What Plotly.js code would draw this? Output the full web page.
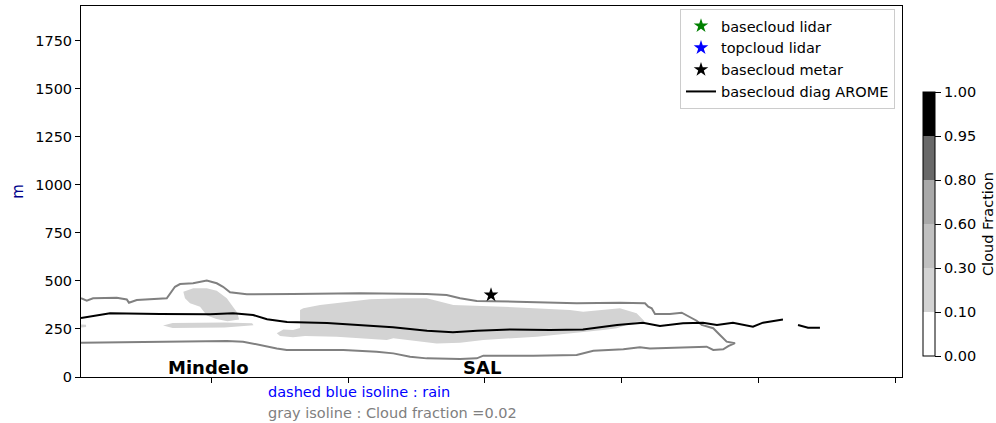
<!DOCTYPE html>
<html>
<head>
<meta charset="utf-8">
<script src="https://cdn.plot.ly/plotly-3.0.1.min.js"></script>
<style>html,body{margin:0;padding:0;background:#fff;}#chart{width:996px;height:423px;}</style>
</head>
<body>
<div id="chart"></div>
<script>
// ---- data (distance along section in km, height in m) ----
var aromeX = [5.1, 15.3, 26.3, 62.8, 99.3, 116.1, 130.7, 140.9, 155.5, 184.7, 208.8, 232.8, 257.7, 276.6, 294.2, 318.2, 347.4, 371.5, 396.4, 415.3, 427.7, 444.5, 459.1, 469.3, 481.0, 495.6, 502.9, 515.3, 517.5, null, 528.5, 535.8, 544.5];
var aromeY = [307, 318, 332, 328, 327, 332, 323, 301, 286, 281, 271, 259, 241, 233, 241, 248, 245, 248, 271, 283, 266, 280, 283, 271, 283, 262, 283, 297, 300, null, 271, 257, 257];

var metarX = [304.4];
var metarY = [427];
var lidarBaseX = [null];
var lidarBaseY = [null];
var lidarTopX = [null];
var lidarTopY = [null];

// cloud fraction = 0.02 isoline (upper branch left->right, then lower branch right->left)
var isoX = [5.1, 9.3, 13.9, 31.2, 38.5, 40.1, 45.8, 55.5, 67.7, 73.7, 77.4, 86.9, 96.9, 104.2, 108.8, 113.9, 126.1, 159.9, 208.8, 257.4, 272.0, 281.8, 294.0, 323.1, 366.9, 398.5, 416.8, 419.2, 421.7, 424.1, 435.0, 443.6, 448.4, 454.5, 458.2, 463.0, 466.6, 471.5, 476.4, 482.5,
            477.6, 473.9, 466.6, 461.8, 444.7, 420.4, 413.1, 401.0, 379.1, 366.9, 335.3, 298.8, 294.0, 281.8, 257.4, 245.3, 233.1, 220.9, 196.6, 155.3, 148.0, 135.8, 123.4, 111.5, 62.8, 4.9];
var isoY = [410, 397, 410, 413, 404, 387, 401, 405, 410, 470, 484, 488, 502, 488, 470, 441, 431, 432, 436, 432, 427, 410, 396, 392, 384, 387, 384, 366, 358, 328, 328, 335, 318, 293, 271, 262, 254, 219, 184, 176,
            161, 144, 141, 158, 155, 149, 155, 144, 137, 115, 111, 111, 97, 94, 97, 106, 123, 132, 141, 141, 149, 167, 184, 187, 182, 179];

// cloud fraction 0.10-0.30 areas
var cloudAX = [79.8, 87.1, 96.9, 104.2, 111.5, 116.3, 119.2, 120.5, 112.0, 104.0, 97.0, 92.0, 84.7, 81.0];
var cloudAY = [444, 462, 462, 449, 410, 366, 335, 300, 290, 302, 320, 366, 384, 410];
var cloudBX = [65.0, 72.0, 110.0, 130.0, 131.0, 110.0, 72.0];
var cloudBY = [268, 281, 284, 280, 270, 258, 255];
var cloudCX = [5.1, 8.8, 8.8, 5.1];
var cloudCY = [258, 260, 272, 274];
var cloudDX = [165.0, 167.4, 179.6, 199.1, 216.1, 240.4, 257.4, 264.7, 276.9, 313.4, 362.0, 371.7, 398.5, 410.7, 416.8, 410.7, 396.1, 386.4, 347.4, 337.7, 298.8, 281.8, 264.7, 233.1, 228.3, 191.8, 168.6, 159.9, 150.4, 148.0, 152.8, 159.9, 165.0];
var cloudDY = [349, 358, 375, 392, 405, 410, 410, 397, 375, 366, 349, 340, 358, 332, 288, 288, 254, 245, 219, 210, 193, 179, 175, 202, 193, 210, 214, 207, 214, 228, 248, 245, 255];

var yTicks = [0, 250, 500, 750, 1000, 1250, 1500, 1750];
var xTicks = [100, 200, 300, 400, 500, 600];
var stations = ['Mindelo', 'SAL'];
var stationX = [98.5, 297.8];
var cfLevels = ['0.00', '0.10', '0.30', '0.60', '0.80', '0.95', '1.00'];
var cfColors = ['white', 'lightgray', 'silver', 'darkgray', 'dimgray', 'black'];

// ---- build ----
var F = 'DejaVu Sans, Verdana, sans-serif';
var PW = 996 - 81 - 10; // paper width between margins
function px(p) { return (p - 81) / PW; }
var cscale = [];
for (var i = 0; i < cfColors.length; i++) {
  cscale.push([i / cfColors.length, cfColors[i]]);
  cscale.push([(i + 1) / cfColors.length, cfColors[i]]);
}

function patch(x, y) {
  return {x: x, y: y, type: 'scatter', mode: 'lines', fill: 'toself', fillcolor: 'lightgray',
          line: {width: 0, color: 'lightgray'}, showlegend: false, hoverinfo: 'skip'};
}

var traces = [
  patch(cloudAX, cloudAY), patch(cloudBX, cloudBY), patch(cloudCX, cloudCY), patch(cloudDX, cloudDY),
  {x: isoX, y: isoY, type: 'scatter', mode: 'lines', line: {color: 'gray', width: 2}, showlegend: false},
  {x: lidarBaseX, y: lidarBaseY, type: 'scatter', mode: 'markers', name: 'basecloud lidar',
   marker: {symbol: 'star', size: 11, color: 'green'}},
  {x: lidarTopX, y: lidarTopY, type: 'scatter', mode: 'markers', name: 'topcloud lidar',
   marker: {symbol: 'star', size: 11, color: 'blue'}},
  {x: metarX, y: metarY, type: 'scatter', mode: 'markers', name: 'basecloud metar',
   marker: {symbol: 'star', size: 11, color: 'black'}},
  {x: aromeX, y: aromeY, type: 'scatter', mode: 'lines', name: 'basecloud diag AROME',
   line: {color: 'black', width: 2}, connectgaps: false},
  {x: [null], y: [null], type: 'scatter', mode: 'markers', showlegend: false, hoverinfo: 'skip',
   marker: {color: [0], cmin: 0, cmax: 6, colorscale: cscale, showscale: true,
     colorbar: {x: px(923), xanchor: 'left', xpad: 0, ypad: 0, y: 0.412, yanchor: 'middle',
       len: 264, lenmode: 'pixels', thickness: 12, thicknessmode: 'pixels',
       outlinewidth: 1, outlinecolor: 'black', borderwidth: 0,
       tickmode: 'array', tickvals: [0, 1, 2, 3, 4, 5, 6], ticktext: cfLevels,
       ticks: 'outside', ticklen: 6, tickwidth: 1, tickcolor: 'black',
       tickfont: {family: F, size: 14.5, color: 'black'}}}}
];

var annotations = [];
for (var k = 0; k < stations.length; k++) {
  annotations.push({x: stationX[k], y: 0, xref: 'x', yref: 'y', text: '<b>' + stations[k] + '</b>',
    showarrow: false, xanchor: 'center', yanchor: 'bottom', yshift: -3,
    font: {family: F, size: 18, color: 'black'}});
}
annotations.push({x: px(266), y: (377 - 392) / 371, xref: 'paper', yref: 'paper', text: 'dashed blue isoline : rain',
  showarrow: false, xanchor: 'left', yanchor: 'middle', font: {family: F, size: 14.5, color: 'blue'}});
annotations.push({x: px(266), y: (377 - 413) / 371, xref: 'paper', yref: 'paper', text: 'gray isoline : Cloud fraction =0.02',
  showarrow: false, xanchor: 'left', yanchor: 'middle', font: {family: F, size: 14.5, color: 'gray'}});
annotations.push({x: px(988), y: (377 - 224) / 371, xref: 'paper', yref: 'paper', text: 'Cloud Fraction',
  textangle: -90, showarrow: false, xanchor: 'center', yanchor: 'middle', font: {family: F, size: 14.5, color: 'black'}});

var layout = {
  width: 996, height: 423,
  margin: {l: 81, r: 10, t: 6, b: 46, pad: 0},
  paper_bgcolor: 'white', plot_bgcolor: 'white',
  font: {family: F, size: 14.5, color: 'black'},
  showlegend: true,
  legend: {x: px(895), y: 0.992, xanchor: 'right', yanchor: 'top', bgcolor: 'white',
    bordercolor: '#cccccc', borderwidth: 1, font: {family: F, size: 14.5, color: 'black'},
    traceorder: 'normal', tracegroupgap: 0},
  xaxis: {domain: [0, px(902)], range: [5.1, 604.4], tickmode: 'array', tickvals: xTicks, showticklabels: false,
    ticks: 'outside', ticklen: 5, tickcolor: 'black', showgrid: false, zeroline: false,
    showline: true, linecolor: 'black', linewidth: 1, mirror: true},
  yaxis: {range: [0, 1932], tickmode: 'array', tickvals: yTicks, ticks: 'outside', ticklen: 5,
    tickcolor: 'black', showgrid: false, zeroline: false, showline: true, linecolor: 'black',
    linewidth: 1, mirror: true, tickfont: {family: F, size: 14.5, color: 'black'},
    title: {text: 'm', font: {family: F, size: 15, color: 'darkblue'}, standoff: 7}},
  annotations: annotations
};

Plotly.newPlot('chart', traces, layout, {displayModeBar: false, staticPlot: true});
</script>
</body>
</html>
